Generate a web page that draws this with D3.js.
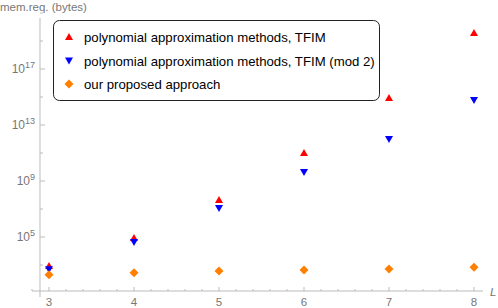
<!DOCTYPE html>
<meta charset="utf-8">
<style>
  body { margin: 0; background: #fff; }
  text { font-family: "Liberation Sans", Arial, sans-serif; }
</style>
<body>
<script src="https://cdn.jsdelivr.net/npm/d3@7"></script>
<script>
// system size L
var sizes = [3, 4, 5, 6, 7, 8];
// log10 of memory requirement in bytes
var polyTFIM = [2.93, 4.93, 7.64, 11.0, 14.93, 19.57];
var polyTFIMmod2 = [2.7, 4.64, 7.07, 9.64, 12.0, 14.79];
var proposed = [2.31, 2.45, 2.57, 2.64, 2.71, 2.84];
var yTickExps = [5, 9, 13, 17];
var xTicks = [3, 4, 5, 6, 7, 8];

var width = 498, height = 308;
var svg = d3.select("body").append("svg")
  .attr("width", width).attr("height", height);

var x = d3.scaleLinear().domain([3, 8]).range([49, 474]);
var y = d3.scaleLinear().domain([5, 17]).range([237, 69]);

var axisCol = "#bbb", labCol = "#777";

// y axis
var yAxX = x(2.894);
svg.append("line").attr("x1", yAxX).attr("x2", yAxX)
  .attr("y1", 18).attr("y2", 297)
  .attr("stroke", axisCol);
for (var e = 3; e <= 21; e += 2) {
  var major = yTickExps.indexOf(e) >= 0;
  svg.append("line").attr("x1", yAxX).attr("x2", yAxX + (major ? 5 : 3))
    .attr("y1", y(e)).attr("y2", y(e)).attr("stroke", axisCol);
}
yTickExps.forEach(function (e) {
  var t = svg.append("text").attr("x", 35).attr("y", y(e) + 4)
    .attr("text-anchor", "end").attr("fill", labCol).style("font-size", "12px");
  t.append("tspan").text("10");
  t.append("tspan").attr("dy", -5).style("font-size", "9px").text(e);
});
svg.append("text").attr("x", 0).attr("y", 11).attr("fill", labCol)
  .style("font-size", "11.5px").text("mem.req. (bytes)");

// x axis
var xAxY = 291;
svg.append("line").attr("x1", 32).attr("x2", 483)
  .attr("y1", xAxY).attr("y2", xAxY).attr("stroke", axisCol);
d3.range(2.8, 8.11, 0.2).forEach(function (v) {
  var major = Math.abs(v - Math.round(v)) < 1e-6;
  svg.append("line").attr("x1", x(v)).attr("x2", x(v))
    .attr("y1", xAxY - (major ? 4 : 2)).attr("y2", xAxY)
    .attr("stroke", axisCol);
});
xTicks.forEach(function (v) {
  svg.append("text").attr("x", x(v)).attr("y", 306)
    .attr("text-anchor", "middle").attr("fill", labCol)
    .style("font-size", "11.5px").text(v);
});
svg.append("text").attr("x", 490).attr("y", 296).attr("fill", labCol)
  .style("font-size", "11.5px").style("font-style", "italic").text("L");

// markers
var up = "M0,-4L4,3L-4,3Z", down = "M0,4L4,-3L-4,-3Z", diamond = "M0,-4.5L4.5,0L0,4.5L-4.5,0Z";
function plot(vals, path, col) {
  svg.append("g").selectAll("path").data(vals).enter().append("path")
    .attr("d", path).attr("fill", col)
    .attr("transform", function (d, i) { return "translate(" + x(sizes[i]) + "," + y(d) + ")"; });
}
plot(polyTFIM, up, "#ff0000");
plot(polyTFIMmod2, down, "#0000ff");
plot(proposed, diamond, "#ff8000");

// legend
var leg = svg.append("g");
leg.append("rect").attr("x", 53.5).attr("y", 20.5).attr("width", 326).attr("height", 80)
  .attr("rx", 6).attr("fill", "#fff").attr("stroke", "#222");
var items = [
  { name: "polynomial approximation methods, TFIM", path: up, col: "#ff0000" },
  { name: "polynomial approximation methods, TFIM (mod 2)", path: down, col: "#0000ff" },
  { name: "our proposed approach", path: diamond, col: "#ff8000" }
];
items.forEach(function (it, i) {
  var cy = 37 + i * 23.5;
  leg.append("path").attr("d", it.path).attr("fill", it.col)
    .attr("transform", "translate(69," + cy + ")");
  leg.append("text").attr("x", 84).attr("y", cy + 5).attr("fill", "#000")
    .style("font-size", "13.2px").text(it.name);
});
</script>
</body>
